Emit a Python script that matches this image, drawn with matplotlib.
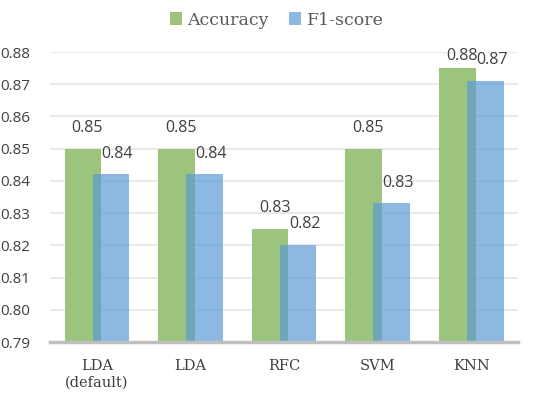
import matplotlib.pyplot as plt
import numpy as np

modelos = ["LDA\n(default)", "LDA", "RFC", "SVM", "KNN"]
accuracy = [0.850, 0.850, 0.825, 0.850, 0.875]
f1_score = [0.842, 0.842, 0.820, 0.833, 0.871]
rotulos_acc = ["0.85", "0.85", "0.83", "0.85", "0.88"]
rotulos_f1 = ["0.84", "0.84", "0.82", "0.83", "0.87"]

fig = plt.figure(figsize=(5.53, 3.98), dpi=100)
ax = fig.add_axes([0.0904, 0.1407, 0.8466, 0.7286])

x = np.arange(len(modelos))
largura = 0.39
desloc = 0.15

b1 = ax.bar(x - desloc, accuracy, largura, color='#9CC47C', label='Accuracy', zorder=2)
b2 = ax.bar(x + desloc, f1_score, largura, color='#5B9BD5', alpha=0.7, label='F1-score', zorder=3)

# rótulos dos valores (limitados ao topo da área do gráfico, como no Excel)
folga = 0.0040
teto = 0.8762
for i in range(len(modelos)):
    ax.text(x[i] - desloc + 0.05, min(accuracy[i] + folga, teto), rotulos_acc[i],
            ha='center', va='bottom', fontsize=11.5, color='#404040',
            family='Open Sans', clip_on=False)
    ax.text(x[i] + desloc + 0.07, min(f1_score[i] + folga, teto), rotulos_f1[i],
            ha='center', va='bottom', fontsize=11.5, color='#404040',
            family='Open Sans', clip_on=False)

ax.set_ylim(0.79, 0.88)
ax.set_yticks(np.arange(0.79, 0.8801, 0.01))
ax.set_yticklabels([f"{v:.2f}" for v in np.arange(0.79, 0.8801, 0.01)],
                   family='Open Sans', fontsize=11, color='#404040')
ax.set_xlim(-0.5, len(modelos) - 0.5)
ax.set_xticks(x)
ax.set_xticklabels(modelos, family='DejaVu Serif', fontsize=10.5, color='#404040',
                   linespacing=1.3)

ax.grid(axis='y', color='#E6E6E6', linewidth=1.2, zorder=0)
ax.tick_params(length=0, pad=12)
ax.tick_params(axis='y', pad=14)
for lado in ['top', 'right', 'left']:
    ax.spines[lado].set_visible(False)
ax.spines['bottom'].set_color('#BFBFBF')
ax.spines['bottom'].set_linewidth(2.5)
ax.spines['bottom'].set_zorder(4)

leg = fig.legend(handles=[b1, b2], loc='upper center', bbox_to_anchor=(0.5, 1.01), ncol=2,
                 frameon=False, handlelength=0.7, handleheight=0.7, handletextpad=0.3,
                 columnspacing=1.2, prop={'family': 'DejaVu Serif', 'size': 12.5})
for t in leg.get_texts():
    t.set_color('#595959')

plt.savefig("out.png", dpi=100)
